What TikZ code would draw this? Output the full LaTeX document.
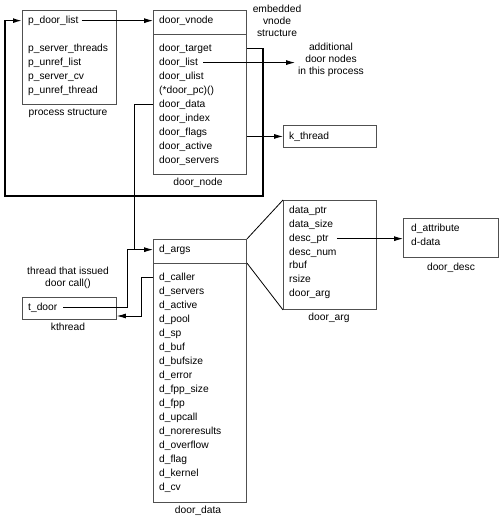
\documentclass[tikz,border=0pt]{standalone}
\usepackage{fontspec}
\setmainfont{Liberation Sans}
\usetikzlibrary{arrows.meta}
\definecolor{boxgray}{HTML}{505050}
\begin{document}
\begin{tikzpicture}[x=1bp,y=-1bp,
  txt/.style={anchor=base west,inner sep=0pt,font=\fontsize{10.3}{12.5}\selectfont},
  lbl/.style={anchor=center,inner sep=0pt,align=center,font=\fontsize{10.3}{12.3}\selectfont},
  box/.style={draw=boxgray,line width=0.9bp,anchor=north west,inner sep=0pt},
  conn/.style={draw=black,line width=0.8bp},
  arr/.style={conn,-{Latex[length=9bp,width=5bp]}},
  loopline/.style={draw=black,line width=1.4bp,-{Latex[length=9bp,width=5bp]}},
]
\useasboundingbox (0,0) rectangle (500,519);

% ---------- boxes ----------
\node[box,minimum width=94bp,minimum height=94bp] (procbox) at (22,10) {};
\node[box,minimum width=93bp,minimum height=164bp] (dnbox) at (153,10) {};
\node[box,minimum width=93bp,minimum height=22bp] (kbox) at (283,125) {};
\node[box,minimum width=93bp,minimum height=263bp] (ddbox) at (153,239) {};
\node[box,minimum width=94bp,minimum height=22bp] (tbox) at (22,297) {};
\node[box,minimum width=93bp,minimum height=109bp] (dabox) at (283,200) {};
\node[box,minimum width=95bp,minimum height=39bp] (dsbox) at (403,218) {};
\coordinate (dnsep) at (153,34);
\coordinate (ddsep) at (153,263);
\draw[boxgray,line width=0.9bp] (dnbox.west |- dnsep) -- (dnbox.east |- dnsep);
\draw[boxgray,line width=0.9bp] (ddbox.west |- ddsep) -- (ddbox.east |- ddsep);

% ---------- process structure ----------
\node[txt] (pdl) at (28,23.3) {p\_door\_list};
\node[txt] (pst) at (28,51.3) {p\_server\_threads};
\node[txt] (pul) at (28,65.3) {p\_unref\_list};
\node[txt] (psc) at (28,79.3) {p\_server\_cv};
\node[txt] (put) at (28,93.3) {p\_unref\_thread};
\node[lbl] (procl) at (68,113) {process structure};

% ---------- door_node ----------
\node[txt] (dvn) at (159,23.3) {door\_vnode};
\node[txt] (dtgt) at (159,51.3) {door\_target};
\node[txt] (dlist) at (159,65.3) {door\_list};
\node[txt] (dul) at (159,79.3) {door\_ulist};
\node[txt] (dpc) at (159,93.3) {(*door\_pc)()};
\node[txt] (ddata) at (159,107.3) {door\_data};
\node[txt] (dind) at (159,121.3) {door\_index};
\node[txt] (dflg) at (159,135.3) {door\_flags};
\node[txt] (dact) at (159,149.3) {door\_active};
\node[txt] (dsrv) at (159,163.3) {door\_servers};
\node[lbl] (dnl) at (198,183) {door\_node};

\node[lbl] (emb) at (277,21) {embedded\\vnode\\structure};
\node[lbl,inner xsep=3bp] (addl) at (331,60) {additional\\door nodes\\in this process};

% ---------- k_thread ----------
\node[txt] (kth) at (289,139.3) {k\_thread};

% ---------- door_data ----------
\node[txt] (dargs) at (159,252.3) {d\_args};
\foreach \t [count=\i] in {d\_caller,d\_servers,d\_active,d\_pool,d\_sp,d\_buf,d\_bufsize,d\_error,d\_fpp\_size,d\_fpp,d\_upcall,d\_noreresults,d\_overflow,d\_flag,d\_kernel,d\_cv}
  \node[txt] (dd\i) at (159,280.3+14*\i-14) {\t};
\node[lbl] (ddl) at (198,511) {door\_data};

% ---------- kthread ----------
\node[lbl] (thr) at (68,278) {thread that issued\\door call()};
\node[txt] (tdoor) at (28,310.3) {t\_door};
\node[lbl] (ktl) at (68,327) {kthread};

% ---------- door_arg ----------
\node[txt] (dap) at (289,213.3) {data\_ptr};
\node[txt] (das) at (289,227.3) {data\_size};
\node[txt] (dptr) at (289,241.3) {desc\_ptr};
\node[txt] (dnum) at (289,255.3) {desc\_num};
\node[txt] (rbuf) at (289,268.3) {rbuf};
\node[txt] (rsz) at (289,282.3) {rsize};
\node[txt] (darg) at (289,296.3) {door\_arg};
\node[lbl] (dal) at (329,318) {door\_arg};

% ---------- door_desc ----------
\node[txt] (datt) at (411,231.3) {d\_attribute};
\node[txt] (dd2) at (411,245.3) {d-data};
\node[lbl] (dsl) at (451,268) {door\_desc};

% ---------- connectors ----------
\coordinate (loopNE) at (263,0);
\coordinate (loopSE) at (263,196);
\coordinate (loopSW) at (5,196);
\coordinate (xj) at (134,0);
\coordinate (xt) at (127,0);
\coordinate (cr) at (141,316);

\draw[arr] ([xshift=3bp]pdl.east) -- (dnbox.west |- pdl.east);
\draw[loopline] (dnbox.east |- dtgt.east) -| (loopSE) -- (loopSW) |- (procbox.west |- pdl.east);
\draw[arr] ([xshift=5bp]dlist.east) -- (addl.west |- dlist.east);
\draw[arr] (dnbox.east |- kbox.west) -- (kbox.west);
\draw[conn] (dnbox.west |- ddata.east) -| (xj |- dargs.east);
\draw[arr] ([xshift=6bp]tdoor.east) -| (xt |- dargs.east) -- (ddbox.west |- dargs.east);
\draw[arr] (ddbox.west |- dd1.east) -| (cr) -- (tbox.east |- cr);
\draw[conn] (ddbox.north east) -- (dabox.north west);
\draw[conn] (ddbox.east |- ddsep) -- (dabox.south west);
\draw[arr] ([xshift=8bp]dptr.east) -- (dsbox.west |- dptr.east);
\end{tikzpicture}
\end{document}
